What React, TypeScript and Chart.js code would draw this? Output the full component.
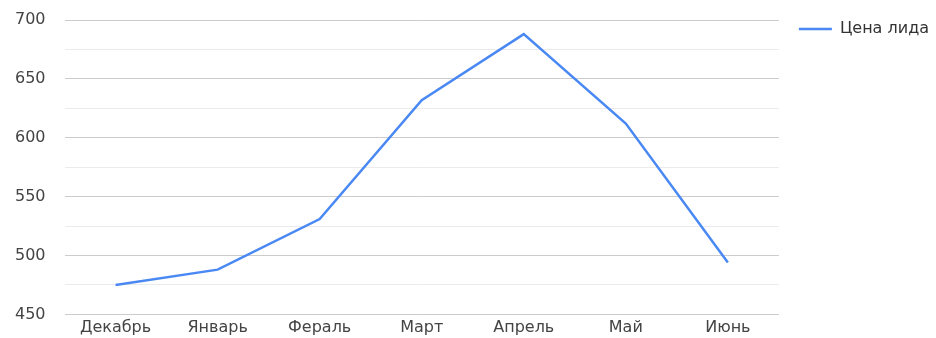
import React, { useEffect, useRef } from "react";
import { Chart, registerables } from "chart.js";

Chart.register(...registerables);

const categories = ["Декабрь", "Январь", "Фераль", "Март", "Апрель", "Май", "Июнь"];
const seriesName = "Цена лида";
const seriesValues = [475, 488, 531, 632, 688, 612, 494];
const yMin = 450;
const yMax = 700;
const yStep = 25;
const yLabelStep = 50;

export default function App() {
  const ref = useRef<HTMLCanvasElement | null>(null);

  useEffect(() => {
    document.body.style.margin = "0";
    const canvas = ref.current;
    if (!canvas) return;
    const font = "'DejaVu Sans', sans-serif";
    const chart = new Chart(canvas, {
      type: "line",
      data: {
        labels: categories,
        datasets: [
          {
            label: seriesName,
            data: seriesValues,
            borderColor: "#4a89f3",
            backgroundColor: "#4a89f3",
            borderWidth: 2.5,
            pointRadius: 0,
            pointHoverRadius: 0,
            tension: 0,
            fill: false,
          },
        ],
      },
      options: {
        animation: false,
        responsive: false,
        layout: { padding: { top: 1, right: -3, bottom: 0, left: -4 } },
        plugins: {
          tooltip: { enabled: false },
          legend: {
            position: "right",
            align: "start",
            labels: {
              usePointStyle: true,
              pointStyle: "line",
              pointStyleWidth: 33,
              padding: 20,
              color: "#333",
              font: { family: font, size: 16 },
            },
          },
        },
        scales: {
          x: {
            offset: true,
            grid: { display: false, drawTicks: false },
            border: { display: false },
            ticks: {
              color: "#444",
              padding: 4,
              maxRotation: 0,
              autoSkip: false,
              font: { family: font, size: 16 },
            },
          },
          y: {
            min: yMin,
            max: yMax,
            border: { display: false },
            grid: {
              drawTicks: false,
              color: (ctx: any) =>
                ctx.tick && ctx.tick.value % yLabelStep === 0 ? "#cccccc" : "#ebebeb",
            },
            afterFit: (scale: any) => {
              scale.paddingTop = 20;
            },
            ticks: {
              stepSize: yStep,
              padding: 19,
              color: "#444",
              font: { family: font, size: 16 },
              callback: (v: any) => (Number(v) % yLabelStep === 0 ? String(v) : ""),
            },
          },
        },
      },
    });
    return () => chart.destroy();
  }, []);

  return (
    <div style={{ position: "absolute", left: 0, top: 0, width: 936, height: 343 }}>
      <canvas ref={ref} width={936} height={343} />
    </div>
  );
}
